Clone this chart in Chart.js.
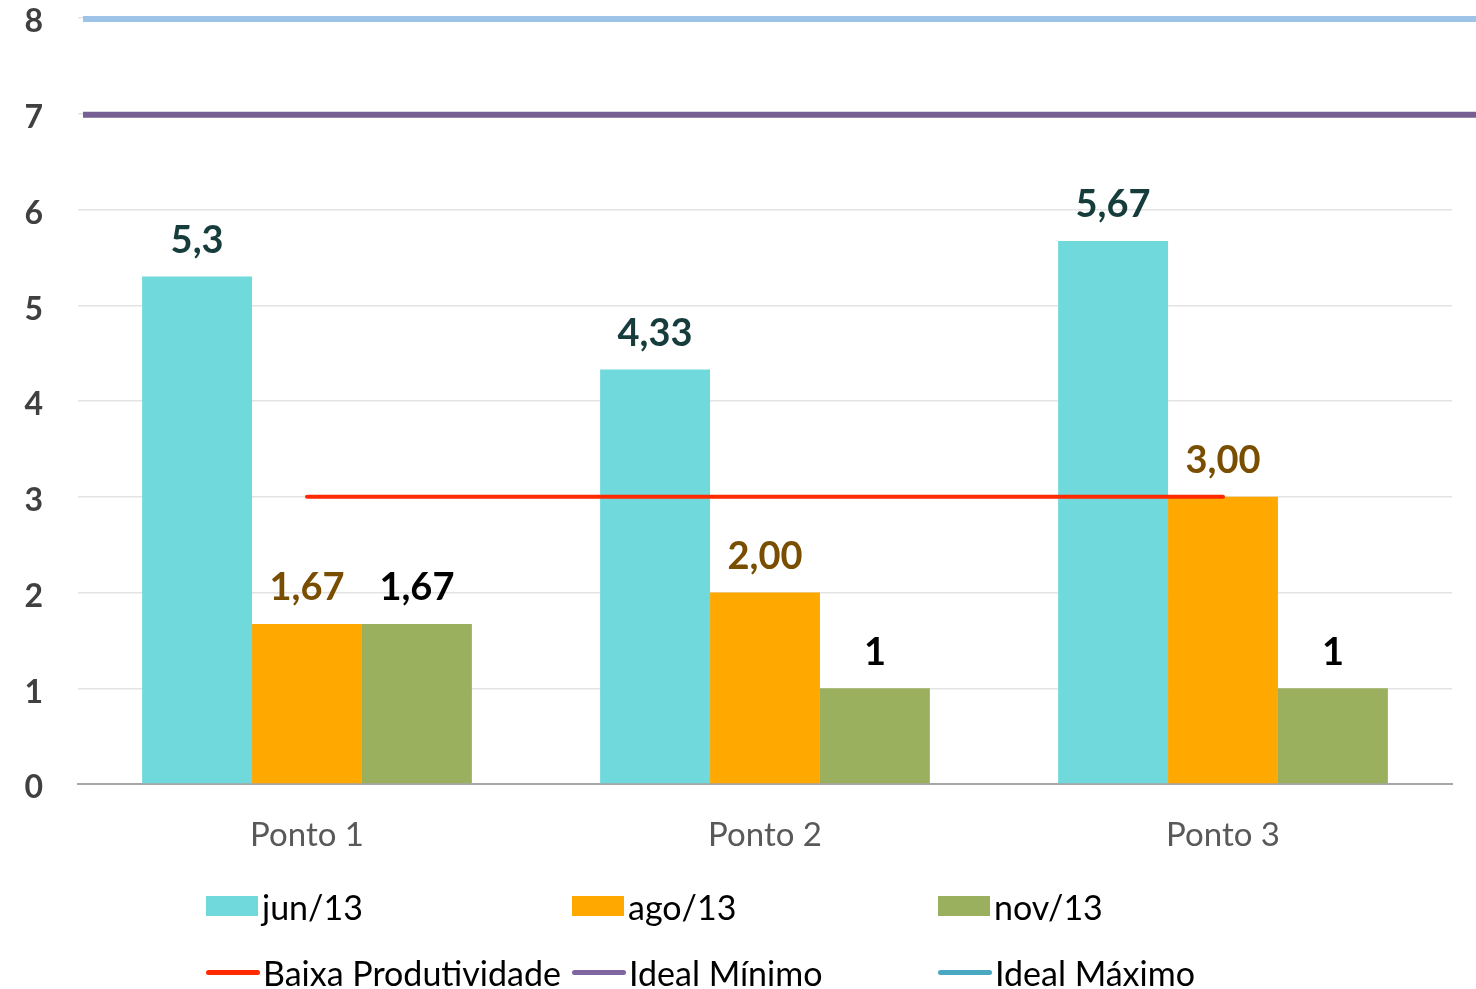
<!DOCTYPE html>
<html lang="pt-BR">
<head>
<meta charset="utf-8">
<title>Produtividade por ponto</title>
<script src="https://cdn.jsdelivr.net/npm/chart.js@4/dist/chart.umd.min.js"></script>
<style>
  html, body { margin: 0; padding: 0; background: #ffffff; }
  #wrap { position: relative; width: 1476px; height: 989px; overflow: hidden; }
  #grafico { position: absolute; left: 0; top: 0; }
  #legenda {
    position: absolute; left: 206px; top: 884px;
    display: grid; grid-template-columns: 366px 366px 366px; row-gap: 22px;
    font-family: Lato, "Noto Sans", sans-serif; font-size: 34px; color: #000;
  }
  .item { display: flex; align-items: center; height: 44px; white-space: nowrap; }
  .box { flex: none; width: 52px; height: 20px; margin-right: 4px; }
  .line { flex: none; width: 54px; height: 5px; border-radius: 3px; margin-right: 3px; }
</style>
</head>
<body>
<div id="wrap">
  <canvas id="grafico" width="1476" height="989"></canvas>
  <div id="legenda"></div>
</div>
<script>
// Pontos de coleta e valores medidos em cada campanha
const pontos = ['Ponto 1', 'Ponto 2', 'Ponto 3'];
const jun13 = [5.3, 4.33, 5.67];
const ago13 = [1.67, 2.00, 3.00];
const nov13 = [1.67, 1, 1];

// Linhas de referência
const baixaProdutividade = [3, 3, 3];
const idealMinimo = 7;
const idealMaximo = 8;

// Marcas do eixo Y
const ticksY = [0, 1, 2, 3, 4, 5, 6, 7, 8];

const FONTE = 'Lato, "Noto Sans", sans-serif';

// Formatação dos rótulos (vírgula decimal)
const fmtLivre = v => v.toLocaleString('pt-BR', { maximumFractionDigits: 2 });
const fmtFixo = v => v.toLocaleString('pt-BR', { minimumFractionDigits: 2, maximumFractionDigits: 2 });

// Faixas ideais: linhas horizontais em toda a largura do gráfico
const faixasIdeais = [
  { label: 'Ideal Máximo', valor: idealMaximo, cor: '#9DC3E8', legenda: '#4BA8C2' },
  { label: 'Ideal Mínimo', valor: idealMinimo, cor: '#765F92', legenda: '#8066A0' }
];

const linhasIdeais = {
  id: 'linhasIdeais',
  beforeDatasetsDraw(chart) {
    const { ctx, chartArea, scales } = chart;
    ctx.save();
    ctx.lineWidth = 6;
    faixasIdeais.forEach(f => {
      const y = scales.y.getPixelForValue(f.valor);
      ctx.strokeStyle = f.cor;
      ctx.beginPath();
      ctx.moveTo(chartArea.left + 5, y + 1);
      ctx.lineTo(chart.width, y + 1);
      ctx.stroke();
    });
    ctx.restore();
  }
};

// Rótulos de valor acima das barras
const rotulosBarras = {
  id: 'rotulosBarras',
  afterDatasetsDraw(chart) {
    const ctx = chart.ctx;
    ctx.save();
    ctx.font = 'bold 38px ' + FONTE;
    ctx.textAlign = 'center';
    ctx.textBaseline = 'middle';
    chart.data.datasets.forEach((ds, i) => {
      if (!ds.rotulo) return;
      const meta = chart.getDatasetMeta(i);
      meta.data.forEach((el, j) => {
        ctx.fillStyle = ds.rotulo.cor;
        ctx.fillText(ds.rotulo.fmt(ds.data[j]), el.x, el.y - 36);
      });
    });
    ctx.restore();
  }
};

const grafico = new Chart(document.getElementById('grafico'), {
  type: 'bar',
  data: {
    labels: pontos,
    datasets: [
      { type: 'bar', label: 'jun/13', data: jun13, backgroundColor: '#70D9DC', order: 2,
        rotulo: { cor: '#173C3C', fmt: fmtLivre } },
      { type: 'bar', label: 'ago/13', data: ago13, backgroundColor: '#FFA800', order: 2,
        rotulo: { cor: '#7A4E00', fmt: fmtFixo } },
      { type: 'bar', label: 'nov/13', data: nov13, backgroundColor: '#9BB05E', order: 2,
        rotulo: { cor: '#000000', fmt: fmtLivre } },
      { type: 'line', label: 'Baixa Produtividade', data: baixaProdutividade,
        borderColor: '#FF2A00', borderWidth: 4, pointRadius: 0, borderCapStyle: 'round',
        order: 1 }
    ]
  },
  plugins: [linhasIdeais, rotulosBarras],
  options: {
    responsive: false,
    animation: false,
    devicePixelRatio: 1,
    layout: { padding: { top: 18, right: 24, bottom: 125, left: 0 } },
    datasets: { bar: { categoryPercentage: 0.72, barPercentage: 1 } },
    plugins: { legend: { display: false }, tooltip: { enabled: false } },
    scales: {
      x: {
        grid: { display: false, drawTicks: false },
        border: { color: '#A6A6A6', width: 2 },
        ticks: { color: '#595959', font: { family: FONTE, size: 33 }, padding: 32 },
        afterFit(s) { s.height = 80; }
      },
      y: {
        min: 0, max: 8,
        afterBuildTicks(s) { s.ticks = ticksY.map(v => ({ value: v })); },
        grid: { color: '#E3E3E3', lineWidth: 1.5, drawTicks: false },
        border: { display: false },
        ticks: { color: '#404040', font: { family: FONTE, size: 32, weight: 'bold' }, padding: 35, labelOffset: 4 },
        afterFit(s) { s.width = 78; s.paddingTop = 0; s.paddingBottom = 0; }
      }
    }
  }
});

// Legenda em grade (3 colunas): séries, linha de baixa produtividade e faixas ideais
const itensLegenda = grafico.data.datasets.map(ds => ({
  label: ds.label,
  tipo: ds.type,
  cor: ds.type === 'bar' ? ds.backgroundColor : ds.borderColor
}));
[...faixasIdeais].reverse().forEach(f => itensLegenda.push({ label: f.label, tipo: 'line', cor: f.legenda }));

const leg = document.getElementById('legenda');
itensLegenda.forEach(it => {
  const item = document.createElement('div');
  item.className = 'item';
  const marca = document.createElement('span');
  marca.className = it.tipo === 'bar' ? 'box' : 'line';
  marca.style.background = it.cor;
  const txt = document.createElement('span');
  txt.textContent = it.label;
  item.appendChild(marca);
  item.appendChild(txt);
  leg.appendChild(item);
});
</script>
</body>
</html>
